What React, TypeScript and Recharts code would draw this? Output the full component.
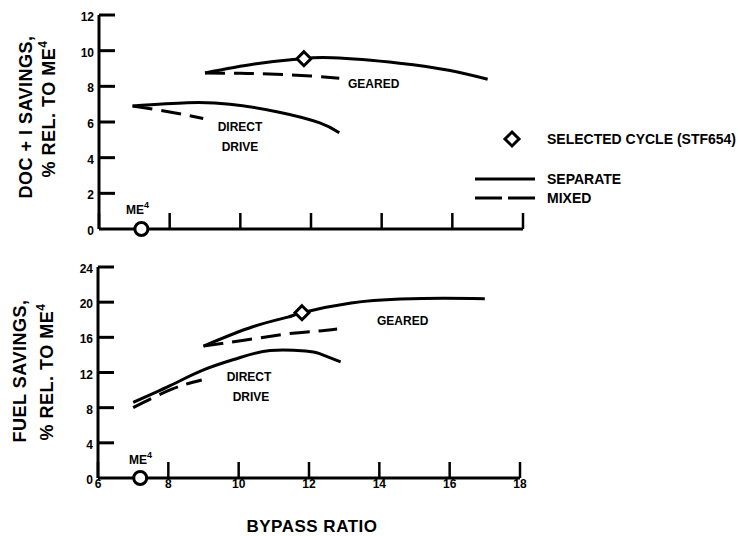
import { ComposedChart, Line, Scatter, XAxis, YAxis } from "recharts";

// bypass ratio ticks and the two y scales
const bprTicks = [6, 8, 10, 12, 14, 16, 18];
const docTicks = [0, 2, 4, 6, 8, 10, 12];
const fuelTicks = [0, 4, 8, 12, 16, 20, 24];

// DOC + I savings (upper panel)
const docGearedSepX = [9.0, 10.4, 11.5, 11.8, 12.6, 14.5, 15.9, 17.0];
const docGearedSepY = [8.75, 9.25, 9.5, 9.55, 9.6, 9.3, 8.9, 8.4];
const docGearedMixX = [9.0, 10.0, 11.0, 12.0, 12.8];
const docGearedMixY = [8.75, 8.73, 8.68, 8.58, 8.45];
const docDirectSepX = [6.95, 8.5, 9.7, 11.1, 12.25, 12.8];
const docDirectSepY = [6.9, 7.08, 7.0, 6.55, 5.95, 5.4];
const docDirectMixX = [6.95, 8.0, 8.95];
const docDirectMixY = [6.9, 6.56, 6.2];

// fuel savings (lower panel)
const fuelGearedSepX = [9.0, 10.4, 11.4, 11.8, 13.2, 14.6, 15.8, 17.0];
const fuelGearedSepY = [15.0, 17.2, 18.3, 18.8, 19.9, 20.35, 20.45, 20.4];
const fuelGearedMixX = [9.0, 10.2, 11.4, 12.2, 12.8];
const fuelGearedMixY = [15.0, 15.7, 16.4, 16.7, 16.95];
const fuelDirectSepX = [7.0, 8.05, 9.0, 10.0, 10.9, 11.9, 12.3, 12.9];
const fuelDirectSepY = [8.6, 10.5, 12.3, 13.65, 14.5, 14.45, 14.15, 13.2];
const fuelDirectMixX = [7.0, 8.1, 8.95];
const fuelDirectMixY = [8.0, 10.1, 11.15];

// selected cycle (STF654) and the ME4 reference engine
const selectedX = [11.8];
const selectedDoc = [9.55];
const selectedFuel = [18.8];
const me4X = [7.2];
const me4Y = [0];

const rows = (xs: number[], ys: number[]) => xs.map((x, i) => ({ x, y: ys[i] }));

const FONT = "'Liberation Sans', Arial, sans-serif";
const INK = "#000";
const DASH = "20 9";
const TICK_LEN = 16;

// plot boxes of the two panels (page coordinates)
const TOP_BOX = { left: 99, top: 15, bottom: 229 };
const BOT_BOX = { left: 98, top: 267, bottom: 478 };

const Diamond = (props: any) => {
  const { cx, cy } = props;
  const s = 7;
  return (
    <polygon
      points={`${cx},${cy - s} ${cx + s},${cy} ${cx},${cy + s} ${cx - s},${cy}`}
      fill="#fff"
      stroke={INK}
      strokeWidth={3}
    />
  );
};

const Ring = (props: any) => (
  <circle cx={props.cx} cy={props.cy} r={6.5} fill="#fff" stroke={INK} strokeWidth={3} />
);

// inward tick marks with the label outside the axis
const XTick = (props: any) => {
  const x = Number(props.x);
  const y = Number(props.y);
  return (
    <g>
      <line x1={x} y1={y} x2={x} y2={y - TICK_LEN} stroke={INK} strokeWidth={2.5} />
      {props.showLabel && (
        <text x={x} y={y + 10} textAnchor="middle" fontSize={12} fontWeight={700} fontFamily={FONT} fill={INK}>
          {props.payload.value}
        </text>
      )}
    </g>
  );
};

const YTick = (props: any) => (
  <text x={Number(props.x) - 5} y={Number(props.y) + 6} textAnchor="end" fontSize={12} fontWeight={700} fontFamily={FONT} fill={INK}>
    {props.payload.value}
  </text>
);

const axisLine = { stroke: INK, strokeWidth: 3 };

type Pt = { x: number; y: number };
type PanelProps = {
  height: number;
  margin: { top: number; right: number; bottom: number; left: number };
  yTicks: number[];
  yMax: number;
  xAxisHeight: number;
  showXLabels: boolean;
  gearedSep: Pt[];
  gearedMix: Pt[];
  directSep: Pt[];
  directMix: Pt[];
  selected: Pt[];
};

const Panel = (p: PanelProps) => (
  <ComposedChart width={742} height={p.height} margin={p.margin}>
    <XAxis
      type="number"
      dataKey="x"
      domain={[6, 18]}
      ticks={bprTicks}
      interval={0}
      allowDataOverflow
      height={p.xAxisHeight}
      axisLine={axisLine}
      tickLine={false}
      tickSize={0}
      tickMargin={0}
      tick={(t: any) => <XTick {...t} showLabel={p.showXLabels} />}
    />
    <YAxis
      type="number"
      dataKey="y"
      domain={[0, p.yMax]}
      ticks={p.yTicks}
      interval={0}
      width={40}
      axisLine={axisLine}
      tickLine={false}
      tickSize={0}
      tickMargin={0}
      tick={(t: any) => <YTick {...t} />}
    />
    <Line data={p.directMix} dataKey="y" type="natural" stroke={INK} strokeWidth={3} strokeDasharray={DASH} dot={false} isAnimationActive={false} />
    <Line data={p.directSep} dataKey="y" type="natural" stroke={INK} strokeWidth={3} dot={false} isAnimationActive={false} />
    <Line data={p.gearedMix} dataKey="y" type="natural" stroke={INK} strokeWidth={3} strokeDasharray={DASH} dot={false} isAnimationActive={false} />
    <Line data={p.gearedSep} dataKey="y" type="natural" stroke={INK} strokeWidth={3} dot={false} isAnimationActive={false} />
    <Scatter data={p.selected} dataKey="y" shape={Diamond} isAnimationActive={false} />
    <Scatter data={rows(me4X, me4Y)} dataKey="y" shape={Ring} isAnimationActive={false} />
  </ComposedChart>
);

// inward y tick stubs, one per tick value
const YStubs = ({ ticks, max, box }: { ticks: number[]; max: number; box: typeof TOP_BOX }) => (
  <g>
    {ticks
      .filter((v) => v > 0)
      .map((v) => {
        const y = box.bottom - (v / max) * (box.bottom - box.top);
        return <line key={v} x1={box.left} y1={y} x2={box.left + TICK_LEN} y2={y} stroke={INK} strokeWidth={3} />;
      })}
  </g>
);

const Me4 = ({ x, y }: { x: number; y: number }) => (
  <text x={x} y={y} fontSize={12} fontWeight={700} fontFamily={FONT} dominantBaseline="central">
    ME<tspan dy={-5} fontSize={9}>4</tspan>
  </text>
);

const label = { fontSize: 12, fontWeight: 700, fontFamily: FONT, fill: INK };
const title = { fontSize: 18, fontWeight: 700, fontFamily: FONT, fill: INK, letterSpacing: 0.5 };

export default function App() {
  return (
    <div
      style={{
        position: "absolute",
        left: 0,
        top: 0,
        width: 742,
        height: 536,
        background: "#fff",
        fontFamily: FONT,
      }}
    >
      <div style={{ position: "absolute", left: 0, top: 0 }}>
        <Panel
          height={250}
          margin={{ top: 15, right: 219, bottom: 20, left: 59 }}
          yTicks={docTicks}
          yMax={12}
          xAxisHeight={1}
          showXLabels={false}
          gearedSep={rows(docGearedSepX, docGearedSepY)}
          gearedMix={rows(docGearedMixX, docGearedMixY)}
          directSep={rows(docDirectSepX, docDirectSepY)}
          directMix={rows(docDirectMixX, docDirectMixY)}
          selected={rows(selectedX, selectedDoc)}
        />
      </div>
      <div style={{ position: "absolute", left: 0, top: 250 }}>
        <Panel
          height={286}
          margin={{ top: 17, right: 222, bottom: 8, left: 58 }}
          yTicks={fuelTicks}
          yMax={24}
          xAxisHeight={50}
          showXLabels
          gearedSep={rows(fuelGearedSepX, fuelGearedSepY)}
          gearedMix={rows(fuelGearedMixX, fuelGearedMixY)}
          directSep={rows(fuelDirectSepX, fuelDirectSepY)}
          directMix={rows(fuelDirectMixX, fuelDirectMixY)}
          selected={rows(selectedX, selectedFuel)}
        />
      </div>

      {/* annotations, axis titles and legend */}
      <svg
        width={742}
        height={536}
        style={{ position: "absolute", left: 0, top: 0, pointerEvents: "none" }}
      >
        <YStubs ticks={docTicks} max={12} box={TOP_BOX} />
        <YStubs ticks={fuelTicks} max={24} box={BOT_BOX} />

        {/* upper panel */}
        <text x={348} y={84} {...label} dominantBaseline="central">GEARED</text>
        <text x={240} y={127} {...label} textAnchor="middle" dominantBaseline="central">DIRECT</text>
        <text x={240} y={147} {...label} textAnchor="middle" dominantBaseline="central">DRIVE</text>
        <Me4 x={126} y={210} />

        {/* lower panel */}
        <text x={377} y={321} {...label} dominantBaseline="central">GEARED</text>
        <text x={249} y={377} {...label} textAnchor="middle" dominantBaseline="central">DIRECT</text>
        <text x={251} y={397} {...label} textAnchor="middle" dominantBaseline="central">DRIVE</text>
        <Me4 x={129} y={460} />

        {/* y titles */}
        <text x={26} y={117} {...title} textAnchor="middle" dominantBaseline="central" transform="rotate(-90 26 117)">
          DOC + I SAVINGS,
        </text>
        <text x={49} y={109} {...title} textAnchor="middle" dominantBaseline="central" transform="rotate(-90 49 109)">
          % REL. TO ME<tspan dy={-6} fontSize={12}>4</tspan>
        </text>
        <text x={20} y={371} {...title} textAnchor="middle" dominantBaseline="central" transform="rotate(-90 20 371)">
          FUEL SAVINGS,
        </text>
        <text x={47} y={372} {...title} textAnchor="middle" dominantBaseline="central" transform="rotate(-90 47 372)">
          % REL. TO ME<tspan dy={-6} fontSize={12}>4</tspan>
        </text>

        {/* x title */}
        <text x={312} y={526} {...title} fontSize={17} textAnchor="middle" dominantBaseline="central">BYPASS RATIO</text>

        {/* legend */}
        <polygon points="512,132 519,139 512,146 505,139" fill="#fff" stroke={INK} strokeWidth={3} />
        <text x={547} y={139} {...label} fontSize={14} dominantBaseline="central">SELECTED CYCLE (STF654)</text>
        <line x1={475} y1={179} x2={535} y2={179} stroke={INK} strokeWidth={3} />
        <text x={547} y={179} {...label} fontSize={14} dominantBaseline="central">SEPARATE</text>
        <line x1={475} y1={198} x2={535} y2={198} stroke={INK} strokeWidth={3} strokeDasharray="27 6" />
        <text x={547} y={198} {...label} fontSize={14} dominantBaseline="central">MIXED</text>
      </svg>
    </div>
  );
}
